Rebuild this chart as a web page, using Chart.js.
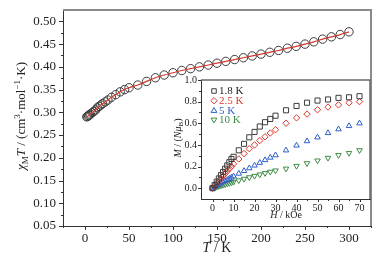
<!DOCTYPE html>
<html>
<head>
<meta charset="utf-8">
<script src="https://cdn.jsdelivr.net/npm/chart.js@4.4.0/dist/chart.umd.min.js"></script>
<style>
    html, body { margin: 0; padding: 0; background: #fff; }
    #wrap { position: relative; width: 382px; height: 258px; }
    #main { position: absolute; left: 0; top: 0; }
    #inset { position: absolute; left: 170px; top: 75px; }
</style>
</head>
<body>
<div id="wrap">
    <canvas id="main" width="382" height="258"></canvas>
    <canvas id="inset" width="205" height="147"></canvas>
</div>
<script>
// chi_M T vs T
const temps = [2, 3, 4, 5, 6, 8, 10, 12, 14, 16, 18, 20, 23, 26, 30, 35, 40, 45, 50, 60, 70, 80, 90, 100,
    110, 120, 130, 140, 150, 160, 170, 180, 190, 200, 210, 220, 230, 240, 250, 260, 270, 280, 290, 300];
const chiT = [0.290, 0.291, 0.293, 0.294, 0.296, 0.299, 0.302, 0.305, 0.310, 0.313, 0.316, 0.319, 0.323, 0.327, 0.333, 0.339, 0.345, 0.350, 0.354, 0.360, 0.368, 0.376, 0.382, 0.387,
    0.392, 0.396, 0.400, 0.404, 0.408, 0.412, 0.416, 0.420, 0.424, 0.428, 0.432, 0.436, 0.441, 0.445, 0.450, 0.455, 0.461, 0.466, 0.471, 0.477];
const tTicks = [0, 50, 100, 150, 200, 250, 300];
const chiTicks = [0.05, 0.10, 0.15, 0.20, 0.25, 0.30, 0.35, 0.40, 0.45, 0.50];

// inset: M vs H
const fields = [0, 1, 2, 3, 4, 5, 6, 7, 8, 9, 10, 12.5, 15, 17.5, 20, 22.5, 25, 27.5, 30, 35, 40, 45, 50, 55, 60, 65, 70];
const m18 = [0, 0.03, 0.06, 0.09, 0.12, 0.15, 0.18, 0.21, 0.24, 0.27, 0.29, 0.35, 0.41, 0.47, 0.52, 0.57, 0.61, 0.64, 0.67, 0.72, 0.76, 0.79, 0.81, 0.82, 0.835, 0.84, 0.85];
const m25 = [0, 0.022, 0.045, 0.068, 0.09, 0.113, 0.135, 0.157, 0.18, 0.2, 0.225, 0.27, 0.32, 0.365, 0.40, 0.44, 0.475, 0.51, 0.54, 0.60, 0.65, 0.685, 0.725, 0.75, 0.77, 0.79, 0.80];
const m5 = [0, 0.011, 0.022, 0.033, 0.044, 0.055, 0.066, 0.077, 0.088, 0.099, 0.11, 0.135, 0.16, 0.185, 0.21, 0.235, 0.26, 0.283, 0.305, 0.35, 0.395, 0.435, 0.47, 0.51, 0.545, 0.575, 0.60];
const m10 = [0, 0.006, 0.012, 0.018, 0.024, 0.03, 0.035, 0.041, 0.047, 0.052, 0.058, 0.072, 0.086, 0.10, 0.113, 0.126, 0.139, 0.151, 0.163, 0.18, 0.205, 0.23, 0.255, 0.28, 0.305, 0.325, 0.35];
const seriesLabels = ['1.8 K', '2.5 K', '5 K', '10 K'];
const hTicks = [0, 10, 20, 30, 40, 50, 60, 70];
const mTicks = [0, 0.2, 0.4, 0.6, 0.8, 1.0];

const SERIF = '"Liberation Serif", "Times New Roman", serif';
const INK = '#222';

function pts(xs, ys) {
    return xs.map((x, i) => ({ x: x, y: ys[i] }));
}

// draws text with italic / sub / sup pieces, centred on (cx, cy)
function richText(ctx, segs, cx, cy, size, rot) {
    ctx.save();
    ctx.translate(cx, cy);
    if (rot) ctx.rotate(rot);
    const fontFor = s => (s.i ? 'italic ' : '') + ((s.sub || s.sup) ? Math.round(size * 0.7) : size) + 'px ' + SERIF;
    let w = 0;
    segs.forEach(s => { ctx.font = fontFor(s); w += ctx.measureText(s.t).width; });
    let x = -w / 2;
    ctx.textAlign = 'left';
    ctx.textBaseline = 'middle';
    ctx.fillStyle = INK;
    segs.forEach(s => {
        ctx.font = fontFor(s);
        const dy = s.sub ? size * 0.3 : (s.sup ? -size * 0.35 : 0);
        ctx.fillText(s.t, x, dy);
        x += ctx.measureText(s.t).width;
    });
    ctx.restore();
}

// outward tick marks, majors and minors
function drawTicks(ctx, xs, ys, xMaj, xMin, yMaj, yMin, lenMaj, lenMin) {
    const a = ys.chart.chartArea;
    ctx.save();
    ctx.strokeStyle = '#333';
    ctx.lineWidth = 1;
    ctx.beginPath();
    xMaj.forEach(v => { const p = Math.round(xs.getPixelForValue(v)) + 0.5; ctx.moveTo(p, a.bottom); ctx.lineTo(p, a.bottom + lenMaj); });
    xMin.forEach(v => { const p = Math.round(xs.getPixelForValue(v)) + 0.5; ctx.moveTo(p, a.bottom); ctx.lineTo(p, a.bottom + lenMin); });
    yMaj.forEach(v => { const p = Math.round(ys.getPixelForValue(v)) + 0.5; ctx.moveTo(a.left, p); ctx.lineTo(a.left - lenMaj, p); });
    yMin.forEach(v => { const p = Math.round(ys.getPixelForValue(v)) + 0.5; ctx.moveTo(a.left, p); ctx.lineTo(a.left - lenMin, p); });
    ctx.stroke();
    ctx.restore();
}

function frame(ctx, a, color, width) {
    ctx.save();
    ctx.strokeStyle = color;
    ctx.lineWidth = width;
    ctx.beginPath();
    ctx.moveTo(a.left, a.top);
    ctx.lineTo(a.right, a.top);
    ctx.lineTo(a.right, a.bottom);
    ctx.stroke();
    ctx.restore();
}

function drawMarker(ctx, style, x, y, r, color) {
    ctx.save();
    ctx.strokeStyle = color;
    ctx.lineWidth = 1;
    ctx.beginPath();
    if (style === 'rect') {
        const s = r * Math.SQRT1_2;
        ctx.rect(x - s, y - s, 2 * s, 2 * s);
    } else if (style === 'rectRot') {
        ctx.moveTo(x, y - r); ctx.lineTo(x + r, y); ctx.lineTo(x, y + r); ctx.lineTo(x - r, y); ctx.closePath();
    } else {
        const d = style === 'down' ? -1 : 1;
        const h = r * 0.9;
        ctx.moveTo(x, y - d * h); ctx.lineTo(x + h, y + d * h * 0.7); ctx.lineTo(x - h, y + d * h * 0.7); ctx.closePath();
    }
    ctx.stroke();
    ctx.restore();
}

const tickFont = size => ({ family: SERIF, size: size });

// fixed axis boxes so the plot area lands where the reference has it
function fixX(h) {
    return s => { s.height = h; s.paddingLeft = 0; s.paddingRight = 0; };
}
function fixY(w) {
    return s => { s.width = w; s.paddingTop = 0; s.paddingBottom = 0; };
}

// main chart
const mainDecor = {
    id: 'mainDecor',
    afterDraw(chart) {
        const ctx = chart.ctx;
        const xs = chart.scales.x, ys = chart.scales.y;
        frame(ctx, chart.chartArea, '#8a8a8a', 2);
        drawTicks(ctx, xs, ys, tTicks, [-25, 25, 75, 125, 175, 225, 275, 325],
            chiTicks, chiTicks.map(v => v + 0.025).filter(v => v < 0.52), 4, 2);
        richText(ctx, [{ t: 'T', i: true }, { t: ' / K' }], 217, 248, 14);
        richText(ctx, [{ t: 'χ', i: true }, { t: 'M', sub: true }, { t: 'T', i: true }, { t: ' / (cm' }, { t: '3', sup: true },
            { t: '·mol' }, { t: '−1', sup: true }, { t: '·K)' }], 22, 116, 13, -Math.PI / 2);
    }
};

new Chart(document.getElementById('main').getContext('2d'), {
    type: 'scatter',
    data: {
        datasets: [
            {
                type: 'line',
                data: pts(temps, chiT),
                borderColor: '#d33a2f',
                borderWidth: 1.2,
                pointRadius: 0,
                cubicInterpolationMode: 'monotone',
                fill: false
            },
            {
                data: pts(temps, chiT),
                pointStyle: 'circle',
                pointRadius: 4.2,
                borderColor: '#3a3a3a',
                backgroundColor: 'rgba(0,0,0,0)',
                borderWidth: 1
            }
        ]
    },
    options: {
        responsive: false,
        animation: false,
        layout: { padding: { top: 10, right: 11, left: 0, bottom: 0 } },
        plugins: { legend: { display: false }, tooltip: { enabled: false } },
        scales: {
            x: {
                type: 'linear', min: -25, max: 325,
                afterBuildTicks: s => { s.ticks = tTicks.map(v => ({ value: v })); },
                afterFit: fixX(32),
                grid: { display: false, drawTicks: false },
                border: { color: '#333', width: 1 },
                ticks: { font: tickFont(13), color: INK, padding: 5, maxRotation: 0 }
            },
            y: {
                min: 0.05, max: 0.525,
                afterBuildTicks: s => { s.ticks = chiTicks.map(v => ({ value: v })); },
                afterFit: fixY(63),
                grid: { display: false, drawTicks: false },
                border: { color: '#333', width: 1 },
                ticks: { font: tickFont(13), color: INK, padding: 7, callback: v => v.toFixed(2) }
            }
        }
    },
    plugins: [mainDecor]
});

// inset chart
const colors = ['#3c3c3c', '#e0372c', '#2e5fc8', '#3f8c46'];
const styles = ['rect', 'rectRot', 'triangle', 'down'];

const insetDecor = {
    id: 'insetDecor',
    afterDraw(chart) {
        const ctx = chart.ctx;
        const xs = chart.scales.x, ys = chart.scales.y;
        frame(ctx, chart.chartArea, '#6a6a6a', 1.5);
        drawTicks(ctx, xs, ys, hTicks, [5, 15, 25, 35, 45, 55, 65], mTicks, [0.1, 0.3, 0.5, 0.7, 0.9], 3, 2);
        richText(ctx, [{ t: 'H', i: true }, { t: ' / kOe' }], 116, 140, 10);
        richText(ctx, [{ t: 'M', i: true }, { t: ' / (' }, { t: 'N', i: true }, { t: 'μ', i: true }, { t: 'B', sub: true }, { t: ')' }],
            8, 63, 10, -Math.PI / 2);
        // legend
        seriesLabels.forEach((lab, i) => {
            const y = 16 + i * 9.7;
            drawMarker(ctx, styles[i], 44, y, 3.2, colors[i]);
            ctx.save();
            ctx.font = '11px ' + SERIF;
            ctx.fillStyle = colors[i] === '#3c3c3c' ? INK : colors[i];
            ctx.textBaseline = 'middle';
            ctx.fillText(lab, 49, y + 0.5);
            ctx.restore();
        });
    }
};

const mSeries = [m18, m25, m5, m10];
new Chart(document.getElementById('inset').getContext('2d'), {
    type: 'scatter',
    data: {
        datasets: mSeries.map((m, i) => ({
            data: pts(fields, m),
            pointStyle: styles[i] === 'down' ? 'triangle' : styles[i],
            rotation: styles[i] === 'down' ? 180 : 0,
            pointRadius: styles[i] === 'rect' ? 3.6 : 3.2,
            borderColor: colors[i],
            backgroundColor: 'rgba(0,0,0,0)',
            borderWidth: 1
        }))
    },
    options: {
        responsive: false,
        animation: false,
        layout: { padding: { top: 5, right: 4, left: 0, bottom: 0 } },
        plugins: { legend: { display: false }, tooltip: { enabled: false } },
        scales: {
            x: {
                type: 'linear', min: -5.5, max: 75,
                afterBuildTicks: s => { s.ticks = hTicks.map(v => ({ value: v })); },
                afterFit: fixX(23),
                grid: { display: false, drawTicks: false },
                border: { color: '#333', width: 1 },
                ticks: { font: tickFont(10), color: INK, padding: 3, maxRotation: 0 }
            },
            y: {
                min: -0.1, max: 1.0,
                afterBuildTicks: s => { s.ticks = mTicks.map(v => ({ value: v })); },
                afterFit: fixY(31),
                grid: { display: false, drawTicks: false },
                border: { color: '#333', width: 1 },
                ticks: { font: tickFont(10), color: INK, padding: 4, callback: v => v.toFixed(1) }
            }
        }
    },
    plugins: [insetDecor]
});
</script>
</body>
</html>
